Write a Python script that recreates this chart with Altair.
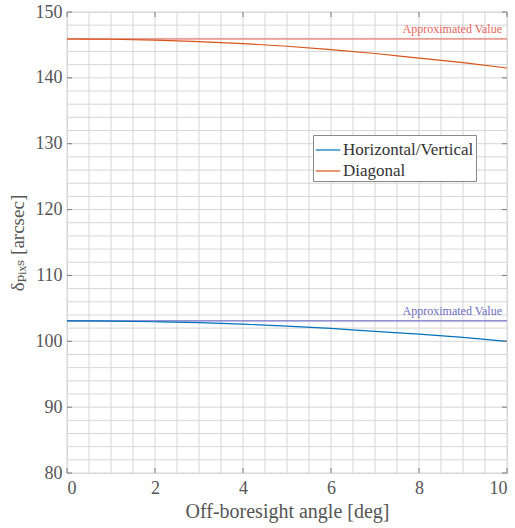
import altair as alt
import pandas as pd

angle = [0, 1, 2, 3, 4, 5, 6, 7, 8, 9, 10]
hv_vals = [103.1, 103.07, 102.97, 102.82, 102.6, 102.3, 101.95, 101.5, 101.1, 100.6, 100.0]
diag_vals = [145.9, 145.86, 145.72, 145.5, 145.2, 144.8, 144.3, 143.7, 143.0, 142.3, 141.5]
series_names = ["Horizontal/Vertical", "Diagonal"]
series_colors = ["#0072BD", "#D95319"]
approx_vals = [103.1, 145.9]
approx_colors = ["#6E6EC2", "#E8645A"]
approx_label = "Approximated Value"
x_ticks = [0, 2, 4, 6, 8, 10]
y_ticks = [80, 90, 100, 110, 120, 130, 140, 150]
x_grid = [i * 0.5 for i in range(21)]
y_grid = list(range(80, 151, 2))

W, H = 440, 461
FONT = "'Liberation Serif', 'Times New Roman', Times, 'DejaVu Serif', serif"

curves = pd.DataFrame({
    "angle": angle * 2,
    "value": hv_vals + diag_vals,
    "series": [series_names[0]] * len(angle) + [series_names[1]] * len(angle),
})

xs = alt.Scale(domain=[0, 10], nice=False, zero=False)
ys = alt.Scale(domain=[80, 150], nice=False, zero=False)

grid_color = "#d6d6d6"
axis_color = "#7a7a7a"

xgrid = alt.Chart(pd.DataFrame({"x": x_grid})).mark_rule(color=grid_color, strokeWidth=1).encode(
    x=alt.X("x:Q", scale=xs, axis=alt.Axis(
        values=x_ticks, grid=False, ticks=False, domain=False,
        labelFont=FONT, labelFontSize=18, labelColor="#555555", labelPadding=6,
        title="Off-boresight angle [deg]", titleFont=FONT, titleFontSize=20,
        titleFontWeight="normal", titleColor="#555555", titlePadding=4)),
)
ygrid = alt.Chart(pd.DataFrame({"y": y_grid})).mark_rule(color=grid_color, strokeWidth=1).encode(
    y=alt.Y("y:Q", scale=ys, axis=alt.Axis(
        values=y_ticks, grid=False, ticks=False, domain=False,
        labelFont=FONT, labelFontSize=18, labelColor="#555555", labelPadding=5,
        title="δₚᵢₓₛ [arcsec]", titleFont=FONT, titleFontSize=19,
        titleFontWeight="normal", titleColor="#555555", titlePadding=8)),
)

xt = pd.DataFrame({"x": x_ticks})
yt = pd.DataFrame({"y": y_ticks})
tick_bottom = alt.Chart(xt).mark_rule(color=axis_color).encode(
    x=alt.X("x:Q", scale=xs), y=alt.value(H), y2=alt.value(H - 5))
tick_top = alt.Chart(xt).mark_rule(color=axis_color).encode(
    x=alt.X("x:Q", scale=xs), y=alt.value(0), y2=alt.value(5))
tick_left = alt.Chart(yt).mark_rule(color=axis_color).encode(
    y=alt.Y("y:Q", scale=ys), x=alt.value(0), x2=alt.value(5))
tick_right = alt.Chart(yt).mark_rule(color=axis_color).encode(
    y=alt.Y("y:Q", scale=ys), x=alt.value(W), x2=alt.value(W - 5))

approx_df = pd.DataFrame({"y": approx_vals, "c": approx_colors, "t": [approx_label] * 2})
approx_lines = alt.Chart(approx_df).mark_rule(strokeWidth=1.2).encode(
    y=alt.Y("y:Q", scale=ys), color=alt.Color("c:N", scale=None))
approx_text = alt.Chart(approx_df).mark_text(
    align="right", baseline="bottom", dx=-5, dy=-3, font=FONT, fontSize=12).encode(
    x=alt.value(W), y=alt.Y("y:Q", scale=ys), text="t:N",
    color=alt.Color("c:N", scale=None))

lines = alt.Chart(curves).mark_line(strokeWidth=1.2, interpolate="monotone").encode(
    x=alt.X("angle:Q", scale=xs),
    y=alt.Y("value:Q", scale=ys),
    color=alt.Color("series:N", scale=alt.Scale(domain=series_names, range=series_colors),
                    sort=series_names,
                    legend=alt.Legend(
                        title=None, orient="none", legendX=246, legendY=123,
                        symbolType="stroke", symbolSize=600, symbolStrokeWidth=1.2,
                        labelFont=FONT, labelFontSize=17, labelColor="#333333",
                        strokeColor="#8a8a8a", fillColor="white", padding=2,
                        rowPadding=0, labelOffset=2, symbolOffset=0)),
)

chart = alt.layer(
    xgrid, ygrid, approx_lines, approx_text, lines,
    tick_bottom, tick_top, tick_left, tick_right,
).properties(
    width=W, height=H,
    autosize=alt.AutoSizeParams(type="none"),
    padding={"left": 67, "top": 12, "right": 8, "bottom": 55},
).configure_view(
    stroke=axis_color, strokeWidth=1.5
).configure(background="white")

chart.save("out.html", embed_options={"renderer": "svg", "actions": False})
